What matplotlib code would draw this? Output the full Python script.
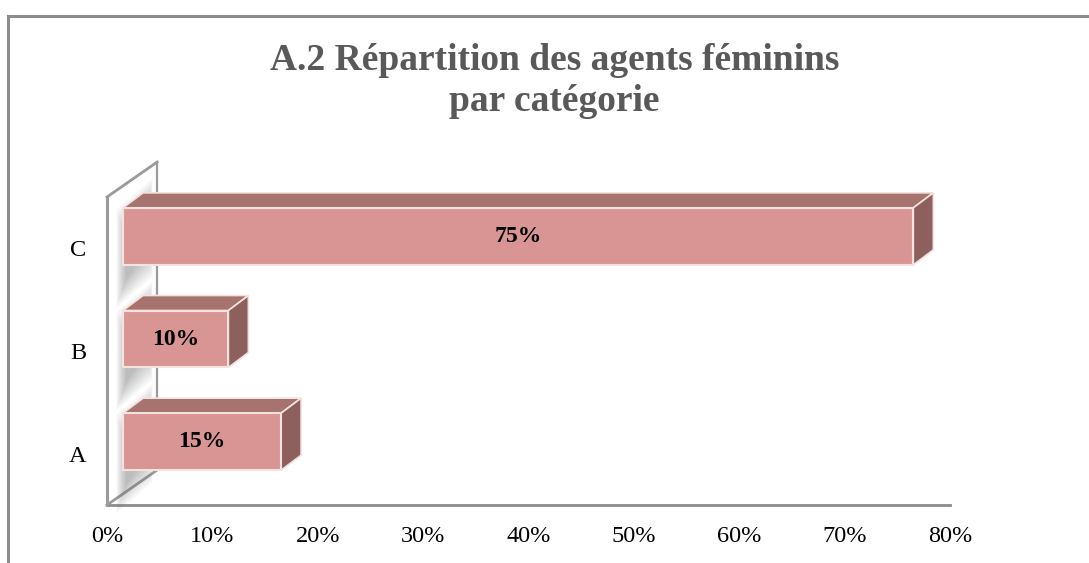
import matplotlib.pyplot as plt
import matplotlib.transforms as mtransforms
from matplotlib.patches import Polygon

categories = ['A', 'B', 'C']
values = [15, 10, 75]
labels = ['15%', '10%', '75%']
xticks = [0, 10, 20, 30, 40, 50, 60, 70, 80]

plt.rcParams['font.family'] = ['Liberation Serif', 'DejaVu Serif']

fig = plt.figure(figsize=(10.89, 5.63), dpi=100)
ax = fig.add_axes([107/1089, 58/563, 843/1089, 308/563])
ax.set_xlim(0, 80)
ax.set_ylim(-0.5, 2.5)
for s in ax.spines.values():
    s.set_visible(False)
ax.set_facecolor('none')

ax.set_xticks(xticks)
ax.set_xticklabels([f'{t}%' for t in xticks], fontsize=17.5)
ax.set_yticks(range(len(categories)))
ax.set_yticklabels(categories, fontsize=17.5)
ax.tick_params(length=0, pad=0)
ax.tick_params(axis='x', pad=15)
ax.tick_params(axis='y', pad=15)

# chart border (top + left only visible)
fig.add_artist(plt.Line2D([8/1089, 1], [1 - 16/563, 1 - 16/563], color='#8c8c8c', lw=2.2))
fig.add_artist(plt.Line2D([8/1089, 8/1089], [0, 1 - 16/563], color='#8c8c8c', lw=2.2))

fig.text(0.509, 1 - 60/563, 'A.2 Répartition des agents féminins', ha='center', va='center',
         fontsize=27, fontweight='bold', color='#595959')
fig.text(0.509, 1 - 102/563, 'par catégorie', ha='center', va='center',
         fontsize=27, fontweight='bold', color='#595959')

# depth in data units
wdx, wdy = 4.75, 0.34
bdx, bdy = 1.9, 0.146
bh = 0.555

front = ax.transData + mtransforms.ScaledTranslation(16/100, 12/100, fig.dpi_scale_trans)

# floor line
ax.plot([0, 80], [-0.5, -0.5], color='#8c8c8c', lw=2, clip_on=False, zorder=1)
# side wall
wall_col = '#9a9a9a'
ax.plot([0, 0], [-0.5, 2.5], color=wall_col, lw=2.2, clip_on=False, zorder=1)
ax.plot([0, wdx], [2.5, 2.5 + wdy], color=wall_col, lw=2, clip_on=False, zorder=1)
ax.plot([0, wdx], [-0.5, -0.5 + wdy], color=wall_col, lw=2, clip_on=False, zorder=1)
ax.plot([wdx, wdx], [-0.5 + wdy, 2.5 + wdy], color=wall_col, lw=1.6, clip_on=False, zorder=1)

# soft shadows on the wall
for i in range(len(categories)):
    y0 = i - bh/2 - 0.3
    y1 = i + bh/2 + 0.1
    for k in range(10):
        g = k * 0.03
        ax.add_patch(Polygon([(0.9 + k*0.1, y0 + g), (4.3 - k*0.05, y0 + 0.3 + g),
                              (4.3 - k*0.05, y1 + 0.3 - g), (0.9 + k*0.1, y1 - g)],
                             closed=True, facecolor='#6f6f6f', edgecolor='none',
                             alpha=0.055, zorder=2, clip_on=False))

front_col = '#D99594'
top_col = '#A6736F'
side_col = '#8E605D'
edge_col = '#F4E2E1'

for i, (v, lab) in enumerate(zip(values, labels)):
    yb, yt = i - bh/2, i + bh/2
    top = Polygon([(0, yt), (v, yt), (v + bdx, yt + bdy), (bdx, yt + bdy)], closed=True,
                  facecolor=top_col, edgecolor=edge_col, lw=1.2, transform=front, zorder=3)
    side = Polygon([(v, yb), (v + bdx, yb + bdy), (v + bdx, yt + bdy), (v, yt)], closed=True,
                   facecolor=side_col, edgecolor=edge_col, lw=1.2, transform=front, zorder=3)
    face = Polygon([(0, yb), (v, yb), (v, yt), (0, yt)], closed=True,
                   facecolor=front_col, edgecolor=edge_col, lw=1.5, transform=front, zorder=4)
    for p in (top, side, face):
        p.set_clip_on(False)
        ax.add_patch(p)
    ax.text(v/2, i, lab, ha='center', va='center', fontsize=17, fontweight='bold',
            color='black', transform=front, zorder=5)

fig.savefig('out.png', dpi=100)
